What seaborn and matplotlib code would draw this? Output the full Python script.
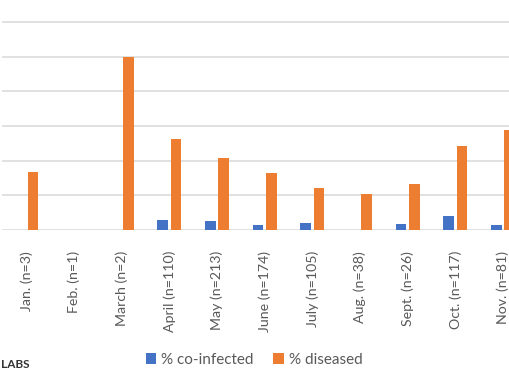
import matplotlib
matplotlib.use("Agg")
import matplotlib.pyplot as plt
import seaborn as sns
import pandas as pd

months = ["Jan. (n=3)", "Feb. (n=1)", "March (n=2)", "April (n=110)", "May (n=213)",
          "June (n=174)", "July (n=105)", "Aug. (n=38)", "Sept. (n=26)", "Oct. (n=117)",
          "Nov. (n=81)"]
co_infected = [0, 0, 0, 5.8, 5.0, 3.1, 4.2, 0, 3.5, 8.1, 3.1]
diseased = [33.3, 0, 100, 52.5, 41.7, 32.7, 24.2, 20.6, 26.7, 48.5, 57.7]
series = ["% co-infected", "% diseased"]
colors = ["#4472C4", "#ED7D31"]

df = pd.DataFrame({
    "month": months * 2,
    "value": co_infected + diseased,
    "series": [series[0]] * len(months) + [series[1]] * len(months),
})

sns.set_theme(style="white")
plt.rcParams["font.family"] = ["Lato", "DejaVu Sans"]

W, H = 510, 382
fig = plt.figure(figsize=(W / 100, H / 100), dpi=100)
left_px, right_px = 2.5, 574.5
base_px, top_px = 230, 230 - 7 * 34.67
ax = fig.add_axes([left_px / W, (H - base_px) / H,
                   (right_px - left_px) / W, (base_px - top_px) / H])

sns.barplot(data=df, x="month", y="value", hue="series", hue_order=series,
            palette=colors, width=0.56, gap=0.2, ax=ax, legend=False,
            saturation=1, linewidth=0)

ax.set_xlim(-0.5, 11.5)
ax.set_ylim(0, 140)
ax.set_yticks(range(0, 141, 20))
ax.yaxis.grid(True, color="#d9d9d9", linewidth=1.1)
ax.set_axisbelow(True)
for s in ax.spines.values():
    s.set_visible(False)
ax.set_xlabel("")
ax.set_ylabel("")
ax.tick_params(axis="y", left=False, labelleft=False)
ax.tick_params(axis="x", bottom=False, pad=9, labelsize=10.2, labelcolor="#595959")
for lab in ax.get_xticklabels():
    lab.set_rotation(90)
    lab.set_ha("center")
    lab.set_va("top")

from matplotlib.patches import Patch
handles = [Patch(facecolor=c, edgecolor="none") for c in colors]
fig.legend(handles, series, loc="center", bbox_to_anchor=(254 / W, 1 - 360 / H),
           ncol=2, frameon=False, fontsize=11, labelcolor="#595959",
           handlelength=0.7, handleheight=0.7, handletextpad=0.3, columnspacing=1.3)

fig.text(1 / W, 1 - 365 / H, "LABS", fontsize=8.5, fontweight="bold",
         color="#333333", ha="left", va="center")

fig.savefig("out.png", dpi=100)
